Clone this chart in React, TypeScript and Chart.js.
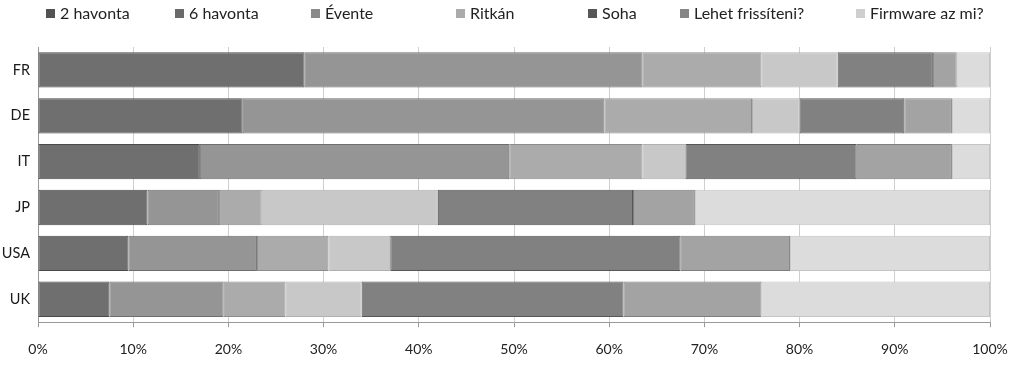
import React, { useEffect, useRef } from "react";
import { Chart, registerables } from "chart.js";

Chart.register(...registerables);

const categories = ["FR", "DE", "IT", "JP", "USA", "UK"];
const seriesNames = ["2 havonta", "6 havonta", "Évente", "Ritkán", "Soha", "Lehet frissíteni?", "Firmware az mi?"];
const ket = [28, 21.5, 17, 11.5, 9.5, 7.5];
const hat = [35.5, 38, 32.5, 7.5, 13.5, 12];
const evente = [12.5, 15.5, 14, 4.5, 7.5, 6.5];
const ritkan = [8, 5, 4.5, 18.5, 6.5, 8];
const soha = [10, 11, 18, 20.5, 30.5, 27.5];
const lehet = [2.5, 5, 10, 6.5, 11.5, 14.5];
const firmware = [3.5, 4, 4, 31, 21, 24];
const seriesValues = [ket, hat, evente, ritkan, soha, lehet, firmware];
const xTicks = [0, 10, 20, 30, 40, 50, 60, 70, 80, 90, 100];

const fills = ["#6f6f6f", "#959595", "#ababab", "#c8c8c8", "#818181", "#a3a3a3", "#dcdcdc"];
const borders = ["#4a4a4a", "#6e6e6e", "#8c8c8c", "#b0b0b0", "#575757", "#7e7e7e", "#c4c4c4"];
const legendFills = ["#525252", "#6a6a6a", "#8a8a8a", "#ababab", "#575757", "#858585", "#cfcfcf"];
const legendX = [46, 175, 311, 456, 588, 680, 856];
const FONT = "Lato, 'Open Sans', sans-serif";

const customLegend = {
  id: "customLegend",
  afterDraw(chart: any) {
    const ctx = chart.ctx;
    ctx.save();
    ctx.font = `16px ${FONT}`;
    ctx.textBaseline = "middle";
    ctx.textAlign = "left";
    seriesNames.forEach((name, i) => {
      const x = legendX[i];
      ctx.fillStyle = legendFills[i];
      ctx.fillRect(x, 9, 9, 9);
      ctx.fillStyle = "#222";
      ctx.fillText(name, x + 14, 14);
    });
    ctx.restore();
  },
};

export default function App() {
  const ref = useRef<HTMLCanvasElement | null>(null);
  useEffect(() => {
    if (!ref.current) return;
    const chart = new Chart(ref.current, {
      type: "bar",
      data: {
        labels: categories,
        datasets: seriesNames.map((name, i) => ({
          label: name,
          data: seriesValues[i],
          backgroundColor: fills[i],
          borderColor: borders[i],
          borderWidth: 1,
          borderSkipped: false,
          barPercentage: 0.77,
          categoryPercentage: 1,
        })),
      },
      options: {
        indexAxis: "y",
        animation: false,
        responsive: false,
        maintainAspectRatio: false,
        layout: { padding: { left: 0, right: 34, top: 47, bottom: -7 } },
        plugins: {
          tooltip: { enabled: false },
          legend: { display: false },
        },
        scales: {
          x: {
            stacked: true,
            min: 0,
            max: 100,
            afterBuildTicks: (axis: any) => {
              axis.ticks = xTicks.map((v) => ({ value: v }));
            },
            ticks: {
              color: "#222",
              font: { family: FONT, size: 14 },
              callback: (v: any) => v + "%",
              padding: 14,
              maxRotation: 0,
            },
            grid: { color: "#cfcfcf", drawTicks: true, tickLength: 5, tickColor: "#999" },
            border: { color: "#999" },
          },
          y: {
            stacked: true,
            afterFit: (axis: any) => {
              axis.width = 38;
            },
            ticks: { color: "#1a1a1a", font: { family: FONT, size: 14.5 }, padding: 8 },
            grid: { display: false, drawTicks: false },
            border: { color: "#999" },
          },
        },
      },
      plugins: [customLegend],
    });
    return () => chart.destroy();
  }, []);
  return (
    <div style={{ position: "fixed", left: 0, top: 0, width: 1024, height: 365, background: "#fff" }}>
      <canvas ref={ref} width={1024} height={365} />
    </div>
  );
}
